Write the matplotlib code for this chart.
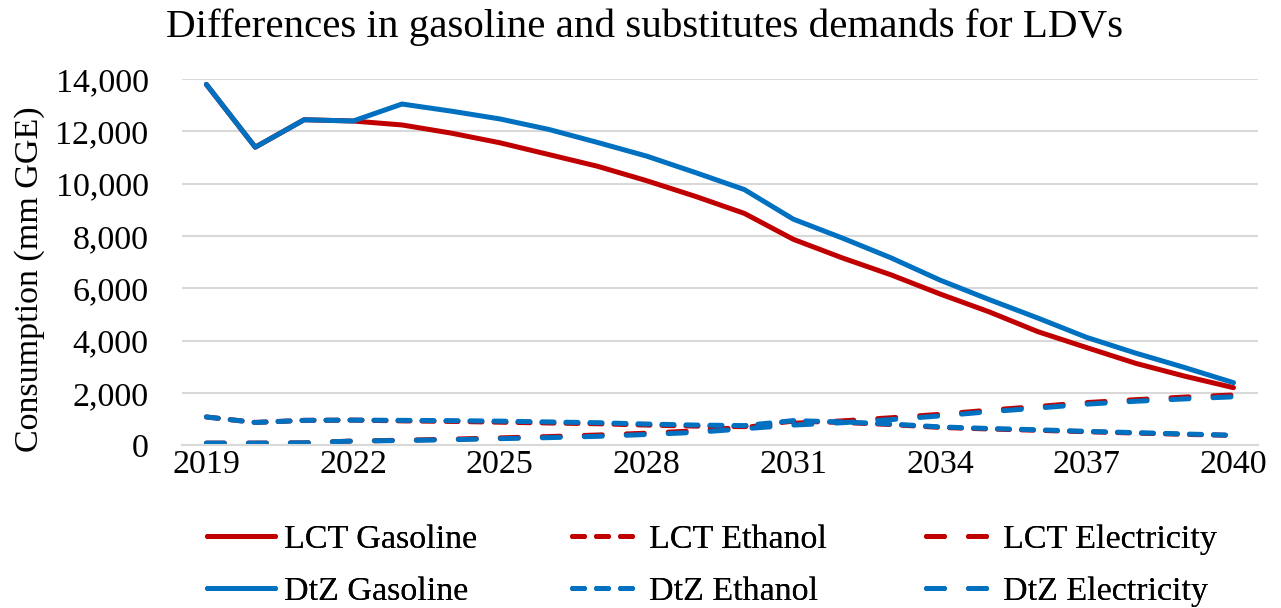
import matplotlib
matplotlib.use("Agg")
import matplotlib.pyplot as plt

plt.rcParams["font.family"] = ["Liberation Serif", "DejaVu Serif"]

RED = "#C00000"
BLUE = "#0070C0"

years = list(range(2019, 2041))

lct_gasoline = [13800, 11400, 12450, 12400, 12250, 11940, 11570, 11120, 10670, 10120, 9520,
                8870, 7880, 7170, 6520, 5790, 5110, 4350, 3740, 3140, 2650, 2210]
dtz_gasoline = [13800, 11400, 12450, 12400, 13050, 12780, 12480, 12080, 11580, 11060, 10430,
                9780, 8650, 7930, 7170, 6320, 5580, 4870, 4130, 3530, 2980, 2400]
lct_ethanol = [1090, 880, 960, 970, 940, 920, 890, 860, 830, 780, 740,
               720, 930, 880, 800, 690, 630, 580, 525, 475, 425, 385]
dtz_ethanol = [1090, 880, 960, 970, 960, 950, 930, 900, 870, 820, 780,
               760, 950, 900, 820, 710, 650, 600, 540, 490, 440, 390]
lct_electricity = [90, 90, 100, 170, 200, 240, 290, 340, 400, 470, 560,
                   700, 850, 940, 1060, 1190, 1350, 1490, 1640, 1750, 1850, 1930]
dtz_electricity = [90, 90, 100, 170, 190, 220, 260, 300, 350, 420, 500,
                   640, 780, 870, 990, 1130, 1290, 1430, 1580, 1690, 1780, 1860]

FS = 24.5
LW = 3.6
SHORT = (0, (2.4, 2.4))
LONG = (0, (3.6, 4.8))

fig = plt.figure(figsize=(12.81, 6.08), dpi=100)
ax = fig.add_axes([0.142, 0.2673, 0.840, 0.6025])

kw = dict(linewidth=LW, dash_capstyle="round", solid_capstyle="round")
l_lg, = ax.plot(years, lct_gasoline, color=RED, label="LCT Gasoline", **kw)
l_le, = ax.plot(years, lct_ethanol, color=RED, linestyle=SHORT, label="LCT Ethanol", **kw)
l_lx, = ax.plot(years, lct_electricity, color=RED, linestyle=LONG, label="LCT Electricity", **kw)
l_dg, = ax.plot(years, dtz_gasoline, color=BLUE, label="DtZ Gasoline", **kw)
l_de, = ax.plot(years, dtz_ethanol, color=BLUE, linestyle=SHORT, label="DtZ Ethanol", **kw)
l_dx, = ax.plot(years, dtz_electricity, color=BLUE, linestyle=LONG, label="DtZ Electricity", **kw)

ax.set_xlim(2018.5, 2040.5)
ax.set_ylim(0, 14000)
ax.set_xticks(range(2019, 2041, 3))
ax.set_yticks(range(0, 14001, 2000))
ax.yaxis.set_major_formatter(matplotlib.ticker.FuncFormatter(lambda v, p: f"{int(v):,}"))
ax.tick_params(axis="y", length=0, labelsize=FS, pad=24)
ax.tick_params(axis="x", length=0, labelsize=FS, pad=3)
ax.grid(axis="y", color="#d9d9d9", linewidth=1.5)
ax.set_axisbelow(True)
for side in ["top", "right", "left"]:
    ax.spines[side].set_visible(False)
ax.spines["bottom"].set_color("#d9d9d9")
ax.spines["bottom"].set_linewidth(1.5)

fig.text(30 / 1281, 1 - 279 / 608, "Consumption (mm GGE)", fontsize=FS,
         rotation=90, ha="center", va="center")
fig.text(645 / 1281, 1 - 27 / 608, "Differences in gasoline and substitutes demands for LDVs",
         fontsize=29.5, ha="center", va="center")

# three legend columns placed independently
columns = [([l_lg, l_dg], 207), ([l_le, l_de], 572), ([l_lx, l_dx], 926)]
for handles, x0 in columns:
    leg = fig.legend(handles=handles, loc="upper left", bbox_to_anchor=(x0 / 1281, 1 - 524 / 608),
                     frameon=False, fontsize=FS, handlelength=2.0, handletextpad=0.25,
                     labelspacing=0.62, borderaxespad=0, borderpad=0)
    fig.add_artist(leg)

fig.savefig("out.png", dpi=100)
